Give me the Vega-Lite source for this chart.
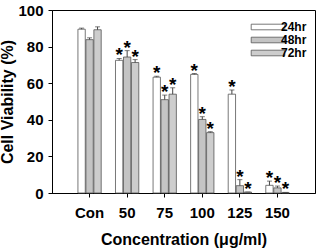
{
  "$schema": "https://vega.github.io/schema/vega-lite/v6.json",
  "width": 263,
  "height": 183,
  "autosize": "none",
  "padding": {"left": 52, "top": 10, "right": 4, "bottom": 59},
  "config": {
    "font": "Liberation Sans",
    "view": {"stroke": "black", "strokeWidth": 1},
    "axis": {
      "grid": false,
      "domainColor": "black",
      "tickColor": "black",
      "tickSize": 4,
      "labelColor": "black",
      "titleColor": "black",
      "labelFont": "Liberation Sans",
      "titleFont": "Liberation Sans",
      "labelFontWeight": "bold",
      "titleFontWeight": "bold",
      "labelFontSize": 15,
      "titleFontSize": 16,
      "labelOverlap": false
    }
  },
  "data": {
    "values": [
      {"c": "Con", "t": "24hr", "v": 89.5, "e": 0.6, "s": ""},
      {"c": "Con", "t": "48hr", "v": 83.8, "e": 1.0, "s": ""},
      {"c": "Con", "t": "72hr", "v": 89.2, "e": 1.6, "s": ""},
      {"c": "50", "t": "24hr", "v": 72.5, "e": 1.0, "s": "*"},
      {"c": "50", "t": "48hr", "v": 74.3, "e": 3.5, "s": "*"},
      {"c": "50", "t": "72hr", "v": 71.3, "e": 1.6, "s": "*"},
      {"c": "75", "t": "24hr", "v": 63.3, "e": 0.5, "s": "*"},
      {"c": "75", "t": "48hr", "v": 51.0, "e": 2.5, "s": "*"},
      {"c": "75", "t": "72hr", "v": 54.0, "e": 3.5, "s": "*"},
      {"c": "100", "t": "24hr", "v": 64.8, "e": 0.5, "s": "*"},
      {"c": "100", "t": "48hr", "v": 40.2, "e": 1.5, "s": "*"},
      {"c": "100", "t": "72hr", "v": 33.0, "e": 0.5, "s": "*"},
      {"c": "125", "t": "24hr", "v": 54.0, "e": 2.3, "s": "*"},
      {"c": "125", "t": "48hr", "v": 4.0, "e": 3.3, "s": "*"},
      {"c": "125", "t": "72hr", "v": 0.5, "e": 0.0, "s": "*"},
      {"c": "150", "t": "24hr", "v": 4.2, "e": 2.3, "s": "*"},
      {"c": "150", "t": "48hr", "v": 2.8, "e": 1.0, "s": "*"},
      {"c": "150", "t": "72hr", "v": 0.3, "e": 0.0, "s": "*"}
    ]
  },
  "transform": [{"calculate": "datum.v + datum.e", "as": "hi"}],
  "encoding": {
    "x": {
      "field": "c",
      "type": "nominal",
      "sort": ["Con", "50", "75", "100", "125", "150"],
      "scale": {"paddingInner": 0.38, "paddingOuter": 0.69},
      "axis": {"title": "Concentration (\u03bcg/ml)", "labelAngle": 0, "labelPadding": 8, "titlePadding": 11}
    },
    "xOffset": {
      "field": "t",
      "type": "nominal",
      "sort": ["24hr", "48hr", "72hr"],
      "scale": {"paddingInner": 0.08}
    },
    "y": {
      "field": "v",
      "type": "quantitative",
      "scale": {"domain": [0, 100]},
      "axis": {"title": "Cell Viability (%)", "values": [0, 20, 40, 60, 80, 100], "labelOverlap": false, "labelPadding": 5, "titlePadding": 2}
    }
  },
  "layer": [
    {
      "mark": {"type": "bar", "stroke": "#555555", "strokeWidth": 0.8, "opacity": 1},
      "encoding": {
        "fill": {
          "field": "t",
          "type": "nominal",
          "scale": {"domain": ["24hr", "48hr", "72hr"], "range": ["#ffffff", "#c4c4c4", "#cdcdcd"]},
          "legend": {
            "title": null,
            "orient": "none",
            "legendX": 210,
            "legendY": 11,
            "padding": 0,
            "symbolType": "M-4.2,-0.7H4.2V0.7H-4.2Z",
            "symbolSize": 64,
            "symbolStrokeColor": "#555555",
            "symbolStrokeWidth": 0.8,
            "symbolOpacity": 1,
            "labelOffset": 7,
            "labelFontSize": 12,
            "labelFontWeight": "bold",
            "labelColor": "black",
            "labelFont": "Liberation Sans",
            "rowPadding": 1
          }
        }
      }
    },
    {
      "mark": {"type": "rule", "color": "#444444", "strokeWidth": 1},
      "encoding": {
        "y2": {"field": "hi"}
      }
    },
    {
      "mark": {"type": "tick", "color": "#444444", "size": 5, "thickness": 1},
      "encoding": {
        "y": {"field": "hi", "type": "quantitative"}
      }
    },
    {
      "mark": {"type": "text", "font": "Liberation Sans", "fontWeight": "bold", "fontSize": 19, "baseline": "alphabetic", "dy": 3, "color": "black"},
      "encoding": {
        "y": {"field": "hi", "type": "quantitative"},
        "text": {"field": "s"}
      }
    }
  ]
}
